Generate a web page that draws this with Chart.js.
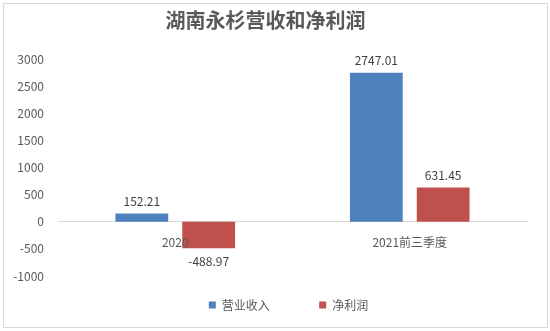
<!DOCTYPE html>
<html>
<head>
<meta charset="utf-8">
<script src="https://cdn.jsdelivr.net/npm/chart.js@4"></script>
<style>
  html, body { margin: 0; padding: 0; background: #fff; }
  #wrap { position: absolute; left: 3px; top: 3px; width: 543px; height: 323px; border: 1px solid #d9d9d9; background: #fff; }
</style>
</head>
<body>
<div id="wrap"><canvas id="myBarChart" width="543" height="323"></canvas></div>
<script>
const categories = ['2020', '2021前三季度'];
const revenue = [152.21, 2747.01];
const netProfit = [-488.97, 631.45];
const seriesNames = ['营业收入', '净利润'];

const FONT = '"Microsoft YaHei", "Noto Sans CJK SC", sans-serif';

// draw value labels above / below each bar
const valueLabels = {
    id: 'valueLabels',
    afterLayout(chart) {
        // the legend sits a little right of centre in the original
        chart.legend.left += 23;
        chart.legend.right += 23;
    },
    afterDatasetsDraw(chart) {
        const ctx = chart.ctx;
        ctx.save();
        ctx.font = '12px ' + FONT;
        ctx.fillStyle = '#404040';
        ctx.textAlign = 'center';
        chart.data.datasets.forEach((ds, i) => {
            chart.getDatasetMeta(i).data.forEach((bar, j) => {
                const v = ds.data[j];
                if (v >= 0) {
                    ctx.textBaseline = 'bottom';
                    ctx.fillText(v.toFixed(2), bar.x, bar.y - 6);
                } else {
                    ctx.textBaseline = 'top';
                    ctx.fillText(v.toFixed(2), bar.x, bar.y + 7);
                }
            });
        });
        ctx.restore();
    }
};

new Chart(document.getElementById('myBarChart').getContext('2d'), {
    type: 'bar',
    data: {
        labels: categories,
        datasets: [
            { label: seriesNames[0], data: revenue, backgroundColor: '#4F81BD' },
            { label: seriesNames[1], data: netProfit, backgroundColor: '#C0504D' }
        ]
    },
    options: {
        responsive: false,
        animation: false,
        categoryPercentage: 0.57,
        barPercentage: 0.79,
        layout: { padding: { left: 0, right: 20, top: 0, bottom: 6 } },
        plugins: {
            title: {
                display: true,
                text: '湖南永杉营收和净利润',
                color: '#595959',
                font: { family: FONT, size: 20, weight: 'bold' },
                padding: { top: 4, bottom: 27 }
            },
            legend: {
                position: 'bottom',
                labels: {
                    color: '#595959',
                    font: { family: FONT, size: 12 },
                    usePointStyle: true,
                    pointStyle: 'rect',
                    boxWidth: 7,
                    boxHeight: 7,
                    padding: 23,
                    // widen the gap after the first entry like the original legend
                    generateLabels: (chart) => {
                        const items = Chart.defaults.plugins.legend.labels.generateLabels(chart);
                        items[0].text = items[0].text + '\u3000\u3000\u2009';
                        return items;
                    }
                }
            },
            tooltip: { enabled: false }
        },
        scales: {
            x: {
                position: { y: 0 },
                grid: { display: false },
                border: { display: true, color: '#d9d9d9' },
                ticks: { z: 1, color: '#595959', font: { family: FONT, size: 12 }, padding: 5 }
            },
            y: {
                min: -1000,
                max: 3000,
                grid: { display: false },
                border: { display: false },
                afterFit: (s) => { s.width = 54; },
                ticks: {
                    stepSize: 500,
                    color: '#595959',
                    font: { family: FONT, size: 12 },
                    padding: 6,
                    callback: (v) => String(v)
                }
            }
        }
    },
    plugins: [valueLabels]
});
</script>
</body>
</html>
